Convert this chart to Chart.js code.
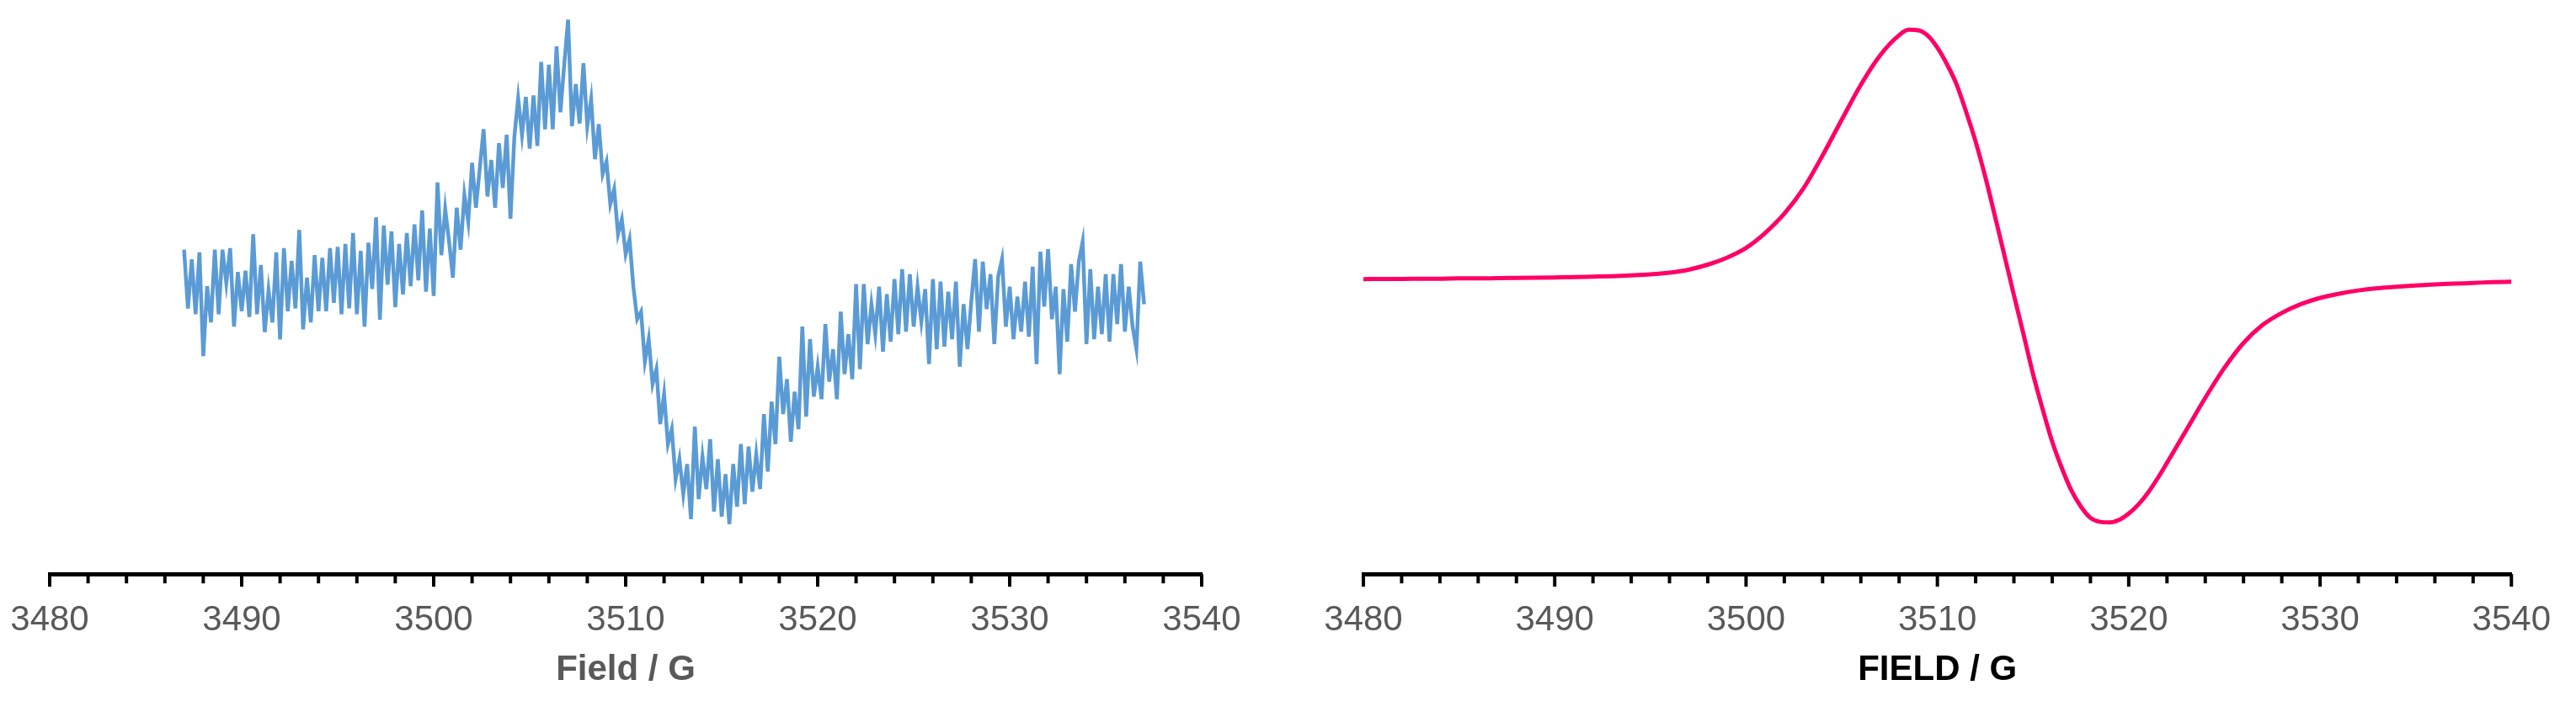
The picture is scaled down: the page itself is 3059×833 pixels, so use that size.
<!DOCTYPE html>
<html>
<head>
<meta charset="utf-8">
<script src="https://cdn.jsdelivr.net/npm/chart.js@4/dist/chart.umd.min.js"></script>
<style>
  html, body { margin: 0; padding: 0; background: #fff; overflow: hidden; }
  .panel { position: absolute; top: 0; height: 833px; }
  #left { left: -20px; width: 1550px; }
  #right { left: 1530px; width: 1529px; }
</style>
</head>
<body>
<div class="panel" id="left"><canvas id="epr1"></canvas></div>
<div class="panel" id="right"><canvas id="epr2"></canvas></div>
<script>
// x axis
const fieldMin = 3480;
const fieldMax = 3540;
const majorStep = 10;
const minorStep = 2;

// left panel: measured spectrum, sampled every 0.2 G from 3487 G
const measuredStart = 3487;
const measuredStep = 0.2;
const measuredSignal = [
  11.8, -11.7, 7.9, -14.0, 10.7, -30.8, -2.8, -17.3, 11.8, -14.0,
  11.8, -1.6, 12.4, -19.0, 2.9, -12.8, 3.4, -15.1, 18.0, -14.0,
  5.7, -21.2, -4.4, -17.3, 10.7, -24.1, 12.4, -12.8, 7.3, -11.7,
  19.7, -20.1, 0.6, -17.3, 9.6, -12.8, 8.5, -12.8, 12.4, -9.5,
  12.9, -14.0, 14.1, -11.7, 18.5, -14.0, 11.3, -19.0, 14.6, -3.9,
  24.7, -16.2, 21.4, -2.2, 19.1, -11.2, 14.1, -6.1, 18.5, -2.8,
  21.9, -0.5, 27.5, -5.0, 20.2, -6.7, 38.7, 9.6, 28.1, 15.2,
  0.6, 28.6, 11.8, 33.7, 23.0, 46.6, 28.6, 44.3, 60.0, 33.1,
  47.7, 28.6, 54.4, 36.5, 57.8, 24.2, 56.7, 72.4, 57.8, 72.9,
  52.2, 73.5, 53.3, 86.9, 60.0, 85.8, 60.0, 93.1, 66.8, 85.8,
  103.8, 61.2, 78.0, 62.3, 86.4, 61.2, 72, 48, 62, 42,
  47, 30, 36, 18, 24, 10, 16, -3, -16, -13,
  -33, -24, -42, -36, -58, -46, -66, -60, -80, -72,
  -86, -74, -96, -59, -88, -71, -84, -64, -93, -72,
  -95, -78, -98, -74, -91, -66, -90, -67, -85, -70,
  -84, -54, -77, -49, -66, -31, -54, -40, -65, -45,
  -60, -19, -55, -24, -47, -35, -48, -18, -41, -28,
  -48, -13, -38, -22, -40, -2, -36, -2, -26, -10,
  -22, -3, -29, -6, -25, 0, -22, 4, -21, 2,
  -19, -3, -17, -4, -34, 0, -28, -1, -27, -5,
  -24, -1, -35, -10, -28, -9, 8, -21, 7, -12,
  2, -26, 1, 8, -19, -3, -24, -7, -21, -1,
  -23, 5, -34, 11, -11, 12, -16, -3, -38, -4,
  -25, 6, -13, 7, 15, -26, 4, -24, -3, -22,
  2, -25, 2, -18, 6, -21, -3, -19, -28, 7,
  -10
];

// right panel: simulated spectrum
const simField = [
  3480, 3481, 3482, 3483, 3484, 3485, 3486, 3487, 3488, 3489,
  3490, 3491, 3492, 3493, 3494, 3495, 3496, 3497, 3498, 3499,
  3500, 3501, 3502, 3503, 3504, 3505, 3506, 3507, 3508, 3508.5,
  3509, 3509.5, 3510, 3510.5, 3511, 3511.5, 3512, 3512.5, 3513, 3513.5,
  3514, 3514.5, 3515, 3515.5, 3516, 3516.5, 3517, 3517.5, 3518, 3518.5,
  3519, 3519.5, 3520, 3520.5, 3521, 3521.5, 3522, 3522.5, 3523, 3524,
  3525, 3526, 3527, 3528, 3529, 3530, 3531, 3532, 3533, 3534,
  3535, 3536, 3537, 3538, 3539, 3540
];
const simSignal = [
  0, 0.1, 0.1, 0.2, 0.2, 0.3, 0.3, 0.4, 0.5, 0.6,
  0.7, 0.8, 1.0, 1.2, 1.5, 1.9, 2.6, 3.8, 5.8, 8.6,
  12.5, 18.5, 26.2, 36.3, 49.5, 63.8, 77.8, 89.5, 97.6, 99.8,
  99.6, 97.4, 92.6, 86, 78, 67, 55, 41, 25.5, 9.6,
  -6.4, -22, -38, -52, -65, -75.5, -84.5, -91, -95.5, -97.1,
  -97.3, -96.3, -93.8, -90.2, -85.5, -79.8, -73.5, -67, -60.5, -47.5,
  -35.5, -25.5, -18.3, -13.5, -10, -7.5, -5.8, -4.5, -3.6, -3.0,
  -2.5, -2.1, -1.8, -1.5, -1.2, -1.0
];

const signalMin = -118;
const signalMax = 109;

Chart.defaults.font.family = "'Liberation Sans', Arial, sans-serif";

// axis tick marks: long at every 10 G, short at every 2 G
const tickMarks = {
  id: "tickMarks",
  afterDraw(chart) {
    const sx = chart.scales.x;
    const ctx = chart.ctx;
    ctx.save();
    ctx.strokeStyle = "#000";
    ctx.lineWidth = 4;
    for (let v = fieldMin; v <= fieldMax; v += minorStep) {
      const px = sx.getPixelForValue(v);
      const len = v % majorStep === 0 ? 15 : 11;
      ctx.beginPath();
      ctx.moveTo(px, sx.top);
      ctx.lineTo(px, sx.top + len);
      ctx.stroke();
    }
    ctx.restore();
  },
};

function makeChart(id, points, line, title, titleColor, pad) {
  new Chart(document.getElementById(id), {
    type: "line",
    data: {
      datasets: [
        Object.assign({ data: points, pointRadius: 0, fill: false }, line),
      ],
    },
    options: {
      responsive: true,
      maintainAspectRatio: false,
      animation: false,
      events: [],
      layout: { padding: pad },
      plugins: { legend: { display: false }, tooltip: { enabled: false } },
      scales: {
        x: {
          type: "linear",
          min: fieldMin,
          max: fieldMax,
          grid: { display: false, drawTicks: false },
          border: { display: true, color: "#000", width: 5 },
          ticks: {
            stepSize: majorStep,
            maxRotation: 0,
            autoSkip: false,
            padding: 30,
            color: "#595959",
            font: { size: 42 },
            callback: (v) => String(v),
          },
          title: {
            display: true,
            text: title,
            color: titleColor,
            font: { size: 42, weight: "bold" },
            padding: { top: -21, bottom: 0 },
          },
        },
        y: { display: false, min: signalMin, max: signalMax },
      },
    },
    plugins: [tickMarks],
  });
}

const measuredPoints = measuredSignal.map((s, i) => ({
  x: measuredStart + i * measuredStep,
  y: s,
}));
const simPoints = simField.map((f, i) => ({ x: f, y: simSignal[i] }));

makeChart("epr1", measuredPoints,
  { borderColor: "#5B9BD5", borderWidth: 4.5, tension: 0 },
  "Field / G", "#595959",
  { left: 79, right: 103, top: 8, bottom: 11 });

makeChart("epr2", simPoints,
  { borderColor: "#FF0066", borderWidth: 5, cubicInterpolationMode: "monotone" },
  "FIELD / G", "#000000",
  { left: 89, right: 73, top: 8, bottom: 11 });
</script>
</body>
</html>
